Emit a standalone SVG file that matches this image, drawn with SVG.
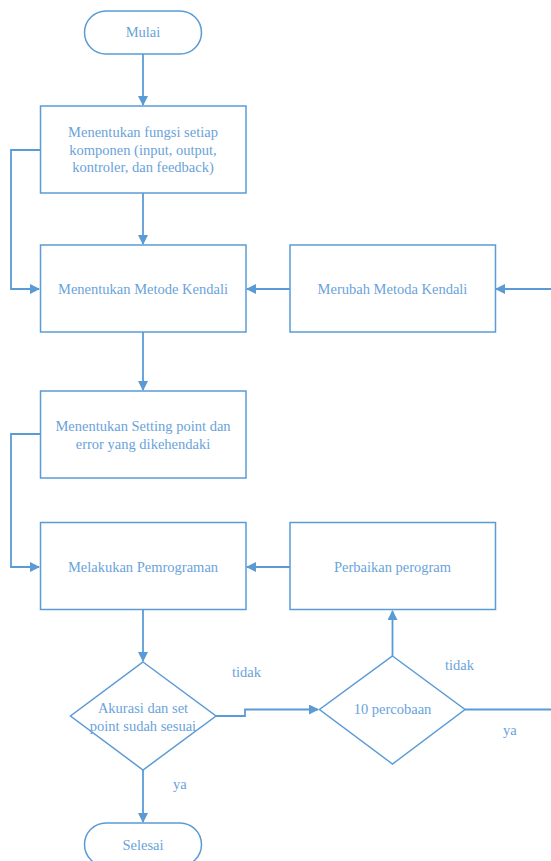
<svg xmlns="http://www.w3.org/2000/svg" width="551" height="861" viewBox="0 0 551 861">
<style>
.s{fill:#fff;stroke:#5b9bd5;stroke-width:1.5}
.c{fill:none;stroke:#5b9bd5;stroke-width:1.8}
.t{font-family:"Liberation Serif","Times New Roman",serif;font-size:14.5px;fill:#6aa3da;text-anchor:middle}
.l{font-family:"Liberation Serif","Times New Roman",serif;font-size:14.5px;fill:#6aa3da}
</style>
<defs>
<marker id="a" markerWidth="10" markerHeight="10" refX="9" refY="5" orient="auto" markerUnits="userSpaceOnUse">
<path d="M0,0 L10,5 L0,10 Z" fill="#5b9bd5"/>
</marker>
</defs>
<rect width="551" height="861" fill="#fff"/>
<g id="connectors">
<path class="c" d="M143,54 V105" marker-end="url(#a)"/>
<path class="c" d="M143,193 V244" marker-end="url(#a)"/>
<path class="c" d="M40,150 H11 V289 H39" marker-end="url(#a)"/>
<path class="c" d="M551,289 H496" marker-end="url(#a)"/>
<path class="c" d="M290,289 H247" marker-end="url(#a)"/>
<path class="c" d="M143,332 V390" marker-end="url(#a)"/>
<path class="c" d="M40,434 H11 V567 H39" marker-end="url(#a)"/>
<path class="c" d="M290,567 H247" marker-end="url(#a)"/>
<path class="c" d="M143,609 V661" marker-end="url(#a)"/>
<path class="c" d="M216,716 H245 V709.5 H318" marker-end="url(#a)"/>
<path class="c" d="M392.5,656 V611" marker-end="url(#a)"/>
<path class="c" d="M465,709.5 H551"/>
<path class="c" d="M143,770 V822" marker-end="url(#a)"/>
</g>
<g id="mulai">
<rect class="s" x="84.5" y="11" width="117" height="43" rx="21.5"/>
<text class="t" x="143" y="37">Mulai</text>
</g>
<g id="fungsi">
<rect class="s" x="40.5" y="106" width="205.5" height="87"/>
<text class="t" x="143" y="137">Menentukan fungsi setiap</text>
<text class="t" x="143" y="155">komponen (input, output,</text>
<text class="t" x="143" y="172">kontroler, dan feedback)</text>
</g>
<g id="metode">
<rect class="s" x="40.5" y="245" width="205.5" height="87"/>
<text class="t" x="143" y="294">Menentukan Metode Kendali</text>
</g>
<g id="merubah">
<rect class="s" x="290" y="245" width="205.5" height="87"/>
<text class="t" x="392.5" y="294">Merubah Metoda Kendali</text>
</g>
<g id="setting">
<rect class="s" x="40.5" y="391" width="205.5" height="87"/>
<text class="t" x="143" y="431">Menentukan Setting point dan</text>
<text class="t" x="143" y="449">error yang dikehendaki</text>
</g>
<g id="pemrograman">
<rect class="s" x="40.5" y="522.5" width="205.5" height="87"/>
<text class="t" x="143" y="572">Melakukan Pemrograman</text>
</g>
<g id="perbaikan">
<rect class="s" x="290" y="522.5" width="205.5" height="87"/>
<text class="t" x="392.5" y="572">Perbaikan perogram</text>
</g>
<g id="akurasi">
<polygon class="s" points="143,662 216,716 143,770 70.5,716"/>
<text class="t" x="143" y="713">Akurasi dan set</text>
<text class="t" x="143" y="731">point sudah sesuai</text>
</g>
<g id="percobaan">
<polygon class="s" points="392.5,656 465,709.5 392.5,764 319.5,709.5"/>
<text class="t" x="392.5" y="714">10 percobaan</text>
</g>
<g id="selesai">
<rect class="s" x="84.5" y="823" width="117" height="43" rx="21.5"/>
<text class="t" x="143" y="850">Selesai</text>
</g>
<g id="labels">
<text class="l" x="232" y="677">tidak</text>
<text class="l" x="445" y="670">tidak</text>
<text class="l" x="503" y="735">ya</text>
<text class="l" x="173" y="789">ya</text>
</g>
</svg>
